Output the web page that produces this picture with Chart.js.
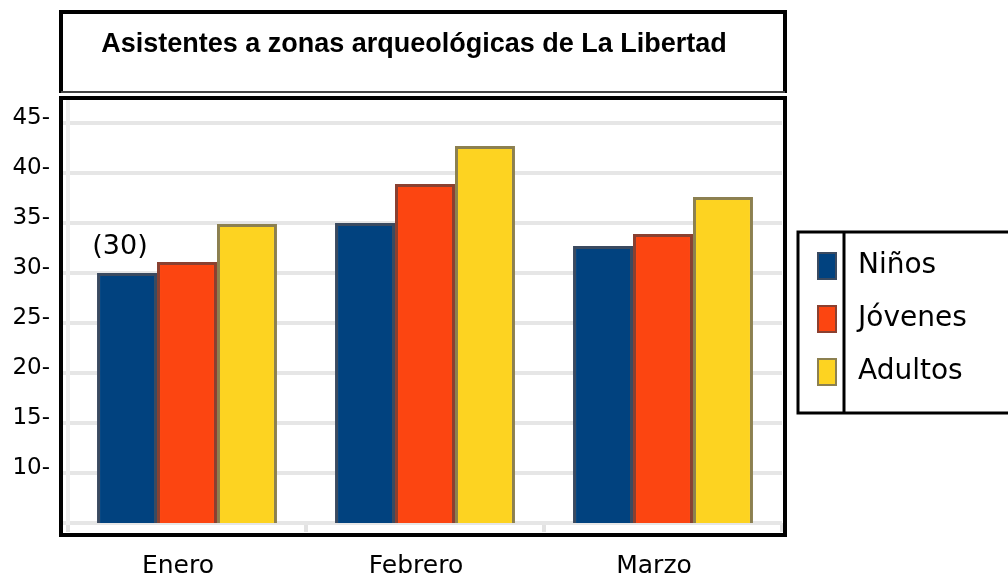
<!DOCTYPE html>
<html lang="es">
<head>
<meta charset="utf-8">
<title>Asistentes a zonas arqueológicas de La Libertad</title>
<script src="https://cdn.jsdelivr.net/npm/chart.js@4.4.1/dist/chart.umd.min.js"></script>
<style>
  html, body { margin: 0; padding: 0; background: #fff; }
</style>
</head>
<body>
<canvas id="grafico" width="1008" height="574"></canvas>
<script>
// Datos
const titulo = 'Asistentes a zonas arqueológicas de La Libertad';
const meses = ['Enero', 'Febrero', 'Marzo'];
const series = ['Niños', 'Jóvenes', 'Adultos'];
const ninos = [30, 35, 32.7];
const jovenes = [31.1, 38.9, 33.9];
const adultos = [34.9, 42.7, 37.6];
const marcasY = [10, 15, 20, 25, 30, 35, 40, 45];

const colores = ['#01427f', '#fc4511', '#fdd321'];
const bordes = ['#3a4a60', '#8a4030', '#8c8050'];
const fuente = 'DejaVu Sans';

// Marcos, titulo, leyenda y la etiqueta (30)
const decorado = {
    id: 'decorado',
    afterDraw(chart) {
        const ctx = chart.ctx;
        ctx.save();

        // caja del titulo
        ctx.strokeStyle = '#000';
        ctx.lineWidth = 4;
        ctx.beginPath();
        ctx.moveTo(61, 93);
        ctx.lineTo(61, 12);
        ctx.lineTo(785, 12);
        ctx.lineTo(785, 93);
        ctx.stroke();
        ctx.lineWidth = 2;
        ctx.strokeStyle = '#444';
        ctx.beginPath();
        ctx.moveTo(61, 92);
        ctx.lineTo(785, 92);
        ctx.stroke();

        ctx.fillStyle = '#000';
        ctx.font = 'bold 27px "Liberation Sans"';
        ctx.textAlign = 'center';
        ctx.textBaseline = 'middle';
        ctx.fillText(titulo, 414, 45);

        // marco del grafico
        ctx.strokeStyle = '#000';
        ctx.lineWidth = 4;
        ctx.strokeRect(61, 98, 724, 437);

        // etiqueta sobre la primera barra
        const barra = chart.getDatasetMeta(0).data[0];
        ctx.font = '27px "' + fuente + '"';
        ctx.fillText('(' + ninos[0] + ')', barra.x - 7, barra.y - 26);

        // leyenda
        ctx.lineWidth = 3;
        ctx.strokeRect(798, 232, 230, 181);
        ctx.beginPath();
        ctx.moveTo(844, 232);
        ctx.lineTo(844, 413);
        ctx.stroke();
        ctx.font = '28px "' + fuente + '"';
        ctx.textAlign = 'left';
        chart.data.datasets.forEach((ds, i) => {
            const y = 266 + i * 53;
            ctx.fillStyle = ds.backgroundColor;
            ctx.fillRect(817, y - 14, 20, 28);
            ctx.strokeStyle = ds.borderColor;
            ctx.lineWidth = 2;
            ctx.strokeRect(818, y - 13, 18, 26);
            ctx.fillStyle = '#000';
            ctx.fillText(ds.label, 858, y);
        });

        ctx.restore();
    }
};

new Chart(document.getElementById('grafico'), {
    type: 'bar',
    data: {
        labels: meses,
        datasets: [
            { label: series[0], data: ninos, backgroundColor: colores[0], borderColor: bordes[0] },
            { label: series[1], data: jovenes, backgroundColor: colores[1], borderColor: bordes[1] },
            { label: series[2], data: adultos, backgroundColor: colores[2], borderColor: bordes[2] }
        ]
    },
    options: {
        responsive: false,
        animation: false,
        layout: { padding: { left: 10, top: 98, right: 226, bottom: 0 } },
        datasets: {
            bar: {
                categoryPercentage: 0.756,
                barPercentage: 1,
                borderWidth: 3,
                borderSkipped: false
            }
        },
        plugins: {
            legend: { display: false },
            tooltip: { enabled: false }
        },
        scales: {
            x: {
                grid: { drawOnChartArea: false, drawTicks: true, tickLength: 9, color: '#e2e2e2', lineWidth: 4 },
                border: { display: false },
                ticks: { font: { family: fuente, size: 25 }, color: '#000', padding: 19, labelOffset: -9 },
                afterFit: s => { s.height = 51; }
            },
            y: {
                min: 5,
                max: 47.5,
                afterBuildTicks: s => { s.ticks = [5].concat(marcasY).map(v => ({ value: v })); },
                grid: { color: '#e6e6e6', lineWidth: 4, tickLength: 6 },
                border: { display: true, color: '#eeeeee', width: 4 },
                ticks: {
                    font: { family: fuente, size: 23 },
                    color: '#000',
                    padding: 12,
                    labelOffset: -5,
                    callback: v => marcasY.includes(v) ? v + '-' : ''
                },
                afterFit: s => { s.width = 58; }
            }
        }
    },
    plugins: [decorado]
});
</script>
</body>
</html>
